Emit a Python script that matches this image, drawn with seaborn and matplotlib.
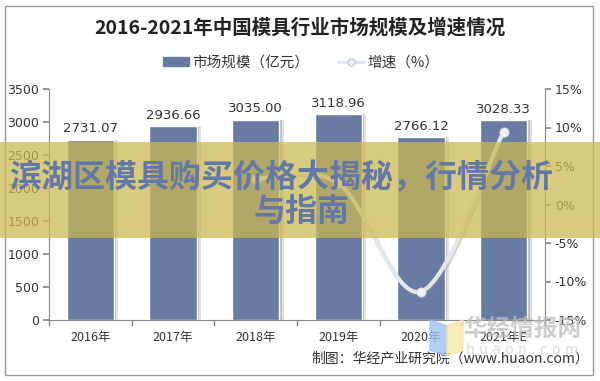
import numpy as np
import matplotlib
matplotlib.use('Agg')
from matplotlib import pyplot as plt
from matplotlib.path import Path
from matplotlib.patches import PathPatch, Rectangle, Polygon
from matplotlib.lines import Line2D
import matplotlib.transforms as mtransforms
import seaborn as sns

'''
    2016-2021 China mould industry market size (bars) and growth rate (smooth line)
'''

years = ['2016年', '2017年', '2018年', '2019年', '2020年', '2021年E']
market_size = [2731.07, 2936.66, 3035.00, 3118.96, 2766.12, 3028.33]
# growth line: only 2018-2021 shows in the picture
growth_years = [2, 3, 4, 5]
growth_rate = [3.35, 2.77, -11.31, 9.48]
left_ticks = [0, 500, 1000, 1500, 2000, 2500, 3000, 3500]
right_ticks = [-15, -10, -5, 0, 5, 10, 15]

BAR = '#687ba2'
LINE = '#e3e7ee'
TXT = '#333333'


def smooth_path(xs, ys):
    # catmull-rom segments as cubic bezier curves
    pts = list(zip(xs, ys))
    verts = [pts[0]]
    codes = [Path.MOVETO]
    for i in range(len(pts) - 1):
        p0 = pts[i - 1] if i > 0 else pts[i]
        p1, p2 = pts[i], pts[i + 1]
        p3 = pts[i + 2] if i + 2 < len(pts) else pts[i + 1]
        c1 = (p1[0] + (p2[0] - p0[0]) / 6, p1[1] + (p2[1] - p0[1]) / 6)
        c2 = (p2[0] - (p3[0] - p1[0]) / 6, p2[1] - (p3[1] - p1[1]) / 6)
        verts += [c1, c2, p2]
        codes += [Path.CURVE4] * 3
    return Path(verts, codes)


sns.set_theme(style='white')
plt.rcParams['font.family'] = ['Noto Sans CJK SC', 'DejaVu Sans']

fig = plt.figure(figsize=(6, 3.81), dpi=100)
ax = fig.add_axes([49 / 600, 1 - 320 / 381, 496 / 600, 231 / 381])

# bar shadows
xpos = np.arange(len(years))
for off, a in [(0.03, 0.45), (0.055, 0.25)]:
    ax.bar(xpos + off, market_size, width=0.57, color='#8f8f8f', alpha=a, zorder=1, linewidth=0)
sns.barplot(x=years, y=market_size, color=BAR, width=0.57, saturation=1, ax=ax, zorder=2)

for i, v in enumerate(market_size):
    ax.text(i, v + 70, f'{v:.2f}', ha='center', va='bottom', fontsize=9.5, color=TXT,
            family=['DejaVu Sans'])

ax.set_xlim(-0.5, 5.5)
ax.set_ylim(0, 3500)
ax.set_yticks(left_ticks)
ax.set_ylabel('')
ax.tick_params(axis='y', left=True, length=4, color='#888888', labelsize=9, labelcolor=TXT, pad=3)
ax.tick_params(axis='x', length=0, labelsize=9, labelcolor=TXT, pad=8)
ax.set_xticks(np.arange(-0.5, 6, 1), minor=True)
ax.tick_params(axis='x', which='minor', bottom=True, length=4, color='#888888')
for lab in ax.get_yticklabels():
    lab.set_family(['DejaVu Sans'])
for s in ['top', 'right']:
    ax.spines[s].set_visible(False)
for s in ['left', 'bottom']:
    ax.spines[s].set_color('#888888')
    ax.spines[s].set_linewidth(0.8)

ax2 = ax.twinx()
ax2.set_ylim(-15, 15)
ax2.set_yticks(right_ticks)
ax2.set_yticklabels([f'{t}%' for t in right_ticks], family=['DejaVu Sans'])
ax2.tick_params(axis='y', right=True, length=4, color='#888888', labelsize=9, labelcolor=TXT, pad=3)
ax2.grid(False)
for s in ['top', 'left', 'bottom']:
    ax2.spines[s].set_visible(False)
ax2.spines['right'].set_color('#888888')
ax2.spines['right'].set_linewidth(0.8)

path = smooth_path(growth_years, growth_rate)
shadow_tr = mtransforms.offset_copy(ax2.transData, fig=fig, x=1.5, y=-2.0, units='dots')
ax2.add_patch(PathPatch(path, facecolor='none', edgecolor='#8a8a8a', lw=3, alpha=0.35,
                        transform=shadow_tr, zorder=3))
ax2.add_patch(PathPatch(path, facecolor='none', edgecolor=LINE, lw=3, zorder=4))
sns.scatterplot(x=growth_years, y=growth_rate, ax=ax2, s=45, color='#eef1f5',
                edgecolor='#d0d5dd', linewidth=0.5, zorder=5)

fig.text(0.5, 1 - 28 / 381, '2016-2021年中国模具行业市场规模及增速情况', ha='center', va='center',
         fontsize=14, fontweight='bold', color='#222222')

handles = [Rectangle((0, 0), 1, 1, color=BAR),
           Line2D([], [], color=LINE, lw=2.5, marker='o', markersize=5,
                  markerfacecolor='#eef1f5', markeredgecolor='#c8ced8')]
fig.legend(handles, ['市场规模（亿元）', '增速（%）'], loc='center', ncol=2,
           bbox_to_anchor=(301 / 600, 1 - 63 / 381), frameon=False, fontsize=10.5,
           handlelength=1.8, handleheight=0.55, columnspacing=2.0, handletextpad=0.2,
           labelcolor=TXT)

fig.text(450 / 600, 1 - 358 / 381, '制图：华经产业研究院（www.huaon.com）', ha='center', va='center',
         fontsize=10, color=TXT)

# watermark
fig.patches.append(Polygon([[430 / 600, 1 - 320 / 381], [447 / 600, 1 - 326 / 381],
                            [447 / 600, 1 - 356 / 381], [430 / 600, 1 - 350 / 381]],
                           closed=True, transform=fig.transFigure, color='#9fc2f0', alpha=0.8,
                           zorder=6))
fig.patches.append(Polygon([[447 / 600, 1 - 326 / 381], [463 / 600, 1 - 320 / 381],
                            [463 / 600, 1 - 350 / 381], [447 / 600, 1 - 356 / 381]],
                           closed=True, transform=fig.transFigure, color='#f7e7a6', alpha=0.8,
                           zorder=6))
fig.text(522 / 600, 1 - 329 / 381, '华经情报网', ha='center', va='center', fontsize=17,
         fontweight='bold', color='#bdbdbd', alpha=0.75, zorder=7)
fig.text(522 / 600, 1 - 350 / 381, 'h u a o n . c o m', ha='center', va='center', fontsize=10,
         color='#cfcfcf', alpha=0.8, zorder=7, family=['DejaVu Sans'])

# outer frame
fig.patches.append(Rectangle((5 / 600, 1 - 375 / 381), 588 / 600, 369 / 381, transform=fig.transFigure,
                             fill=False, edgecolor='#999999', lw=1, zorder=8))

# overlay banner
fig.patches.append(Rectangle((0, 1 - 238 / 381), 1, 96 / 381, transform=fig.transFigure,
                             color='#cbb853', alpha=0.74, zorder=9, linewidth=0))
fig.text(281 / 600, 1 - 178 / 381, '滨湖区模具购买价格大揭秘，行情分析', ha='center', va='center',
         fontsize=23, fontweight='bold', color='#6478a8', zorder=10)
fig.text(301 / 600, 1 - 212 / 381, '与指南', ha='center', va='center',
         fontsize=23, fontweight='bold', color='#6478a8', zorder=10)

fig.savefig('out.png', dpi=100)
